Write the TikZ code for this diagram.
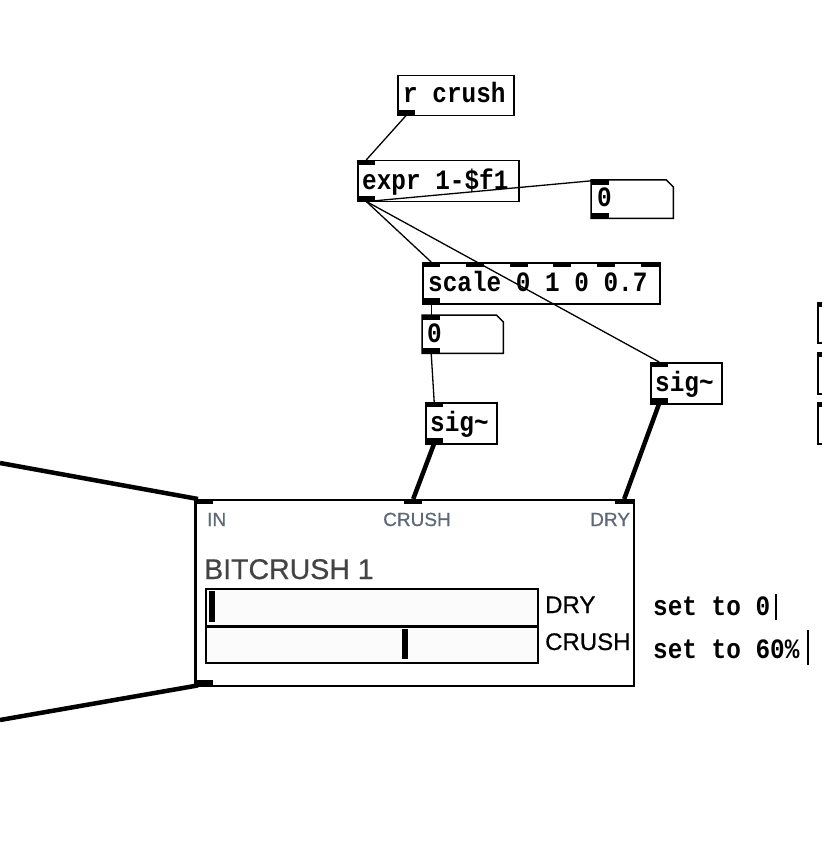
\documentclass[tikz,border=0pt]{standalone}
\usepackage{fontspec}
\setmainfont{Liberation Sans}
\newfontfamily\pdmono[FakeStretch=0.87]{Liberation Mono}
\newfontfamily\pdsans{Liberation Sans}
\newfontfamily\pdsansb[FakeBold=0.6]{Liberation Sans}
\definecolor{lblgray}{HTML}{5E6878}
\definecolor{titlegray}{HTML}{444444}
\definecolor{sliderbg}{HTML}{FBFBFB}
\tikzset{
  pdbox/.style={draw=black, line width=1.5pt, fill=white, inner sep=0pt, anchor=north west},
  tab/.style={fill=black, draw=none, inner sep=0pt, minimum width=18pt, minimum height=5pt, anchor=north west},
  pdtext/.style={anchor=base west, inner sep=0pt, font=\pdmono\bfseries\fontsize{28}{28}\selectfont},
  inlbl/.style={anchor=base west, inner sep=0pt, text=lblgray, font=\pdsansb\fontsize{19}{19}\selectfont},
  sidelbl/.style={anchor=base west, inner sep=0pt, text=black, font=\pdsansb\fontsize{24}{24}\selectfont},
  ctl/.style={line width=1.3pt, draw=black},
  sigw/.style={line width=4.5pt, draw=black},
  numbox/.style={inner sep=0pt, anchor=north west},
  numline/.style={line width=1.5pt, fill=white, draw=black},
}
\begin{document}
\begin{tikzpicture}[x=1pt,y=-1pt]
\useasboundingbox[fill=white] (0,0) rectangle (821,842);

% r crush
\node[pdbox, minimum width=116pt, minimum height=40pt] (rc) at (397,75) {};
\node[pdtext] (rct) at (403,103) {r crush};
\node[tab] (rcO) at (397,110) {};

% expr
\node[pdbox, minimum width=161pt, minimum height=41pt] (ex) at (357,160) {};
\node[pdtext] (ext) at (362,190) {expr 1-\$f1};
\node[tab] (exI) at (357,160) {};
\node[tab] (exO) at (357,196) {};

% number box 1
\node[numbox, minimum width=82pt, minimum height=38pt] (nb1) at (591,180) {};
\draw[numline] (nb1.north west) -- ([xshift=-7pt]nb1.north east) -- ([yshift=-7pt]nb1.north east) -- (nb1.south east) -- (nb1.south west) -- cycle;
\node[pdtext] (nb1t) at (597,207) {0};
\node[tab] (nb1I) at (591,180) {};
\node[tab] (nb1O) at (591,213) {};

% scale
\node[pdbox, minimum width=237pt, minimum height=41pt] (sc) at (422,262) {};
\node[pdtext] (sct) at (428,291) {scale 0 1 0 0.7};
\node[tab] (scI1) at (422,262) {};
\node[tab] (scI2) at (466,262) {};
\node[tab] (scI3) at (510,262) {};
\node[tab] (scI4) at (553,262) {};
\node[tab] (scI5) at (597,262) {};
\node[tab] (scI6) at (641,262) {};
\node[tab] (scO) at (422,298) {};

% number box 2
\node[numbox, minimum width=81pt, minimum height=38pt] (nb2) at (422,315) {};
\draw[numline] (nb2.north west) -- ([xshift=-7pt]nb2.north east) -- ([yshift=-7pt]nb2.north east) -- (nb2.south east) -- (nb2.south west) -- cycle;
\node[pdtext] (nb2t) at (427,342) {0};
\node[tab] (nb2I) at (422,315) {};
\node[tab] (nb2O) at (422,348) {};

% sig~ left
\node[pdbox, minimum width=71pt, minimum height=41pt] (sgl) at (425,402) {};
\node[pdtext] (sglt) at (430,431) {sig\char`\~};
\node[tab] (sglI) at (425,402) {};
\node[tab] (sglO) at (425,438) {};

% sig~ right
\node[pdbox, minimum width=71pt, minimum height=41pt] (sgr) at (650,362) {};
\node[pdtext] (sgrt) at (655,391) {sig\char`\~};
\node[tab] (sgrI) at (650,362) {};
\node[tab] (sgrO) at (650,398) {};

% partial boxes at the right edge
\node[pdbox, minimum width=30pt, minimum height=40pt] (rb1) at (817,302) {};
\node[tab, minimum width=8pt] (rb1I) at (817,302) {};
\node[pdbox, minimum width=30pt, minimum height=41pt] (rb2) at (817,352) {};
\node[tab, minimum width=8pt] (rb2I) at (817,352) {};
\node[pdbox, minimum width=30pt, minimum height=41pt] (rb3) at (817,402) {};
\node[tab, minimum width=8pt] (rb3I) at (817,402) {};

% main bitcrush box
\node[pdbox, line width=2pt, minimum width=438pt, minimum height=186pt] (mb) at (195,499) {};
\draw[line width=3pt] (mb.north west) -- (mb.south west);
\node[tab] (mIn) at (195,499) {};
\node[tab] (mCr) at (404,499) {};
\node[tab] (mDry) at (615,499) {};
\node[tab] (mOut) at (195,680) {};
\node[inlbl] (lIn) at (207,526) {IN};
\node[inlbl] (lCr) at (383,526) {CRUSH};
\node[inlbl] (lDry) at (590,526) {DRY};
\node[anchor=base west, inner sep=0pt, text=titlegray, font=\pdsansb\fontsize{28.5}{29}\selectfont] (ttl) at (204,579) {BITCRUSH 1};

% sliders
\node[draw=black, line width=1.5pt, fill=sliderbg, inner sep=0pt, anchor=north west, minimum width=332pt, minimum height=37pt] (s1) at (205,588) {};
\node[fill=black, inner sep=0pt, anchor=north west, minimum width=6pt, minimum height=31pt] (s1h) at (209,591) {};
\node[draw=black, line width=1.5pt, fill=sliderbg, inner sep=0pt, anchor=north west, minimum width=332pt, minimum height=36pt] (s2) at (205,626) {};
\node[fill=black, inner sep=0pt, anchor=north west, minimum width=6pt, minimum height=30pt] (s2h) at (402,629) {};
\node[sidelbl] (sDry) at (545,613) {DRY};
\node[sidelbl] (sCr) at (545,650) {CRUSH};

% comments
\node[pdtext] (c1) at (653,615) {set to 0};
\node[pdtext] (c2) at (653,658) {set to 60\%};
\draw[line width=2pt] (776,594) -- (776,620);
\draw[line width=2pt] (808,630) -- (808,665);

% free ends
\coordinate (leftA) at (0,463);
\coordinate (leftB) at (0,720);

% control connections
\draw[ctl] (rcO.south) -- (exI.north);
\draw[ctl] ([xshift=2pt]exO.south) -- (nb1I.north);
\draw[ctl] (exO.south) -- (scI1.north);
\draw[ctl] (exO.south) -- (sgrI.north);
\draw[ctl] (scO.south) -- (nb2I.north);
\draw[ctl] (nb2O.south) -- (sglI.north);

% signal connections
\draw[sigw] (sglO.south) -- (mCr.north);
\draw[sigw] (sgrO.south) -- (mDry.north);
\draw[sigw] (leftA) -- ([xshift=3pt]mIn.north west);
\draw[sigw] ([xshift=3pt]mOut.south west) -- (leftB);
\end{tikzpicture}
\end{document}
